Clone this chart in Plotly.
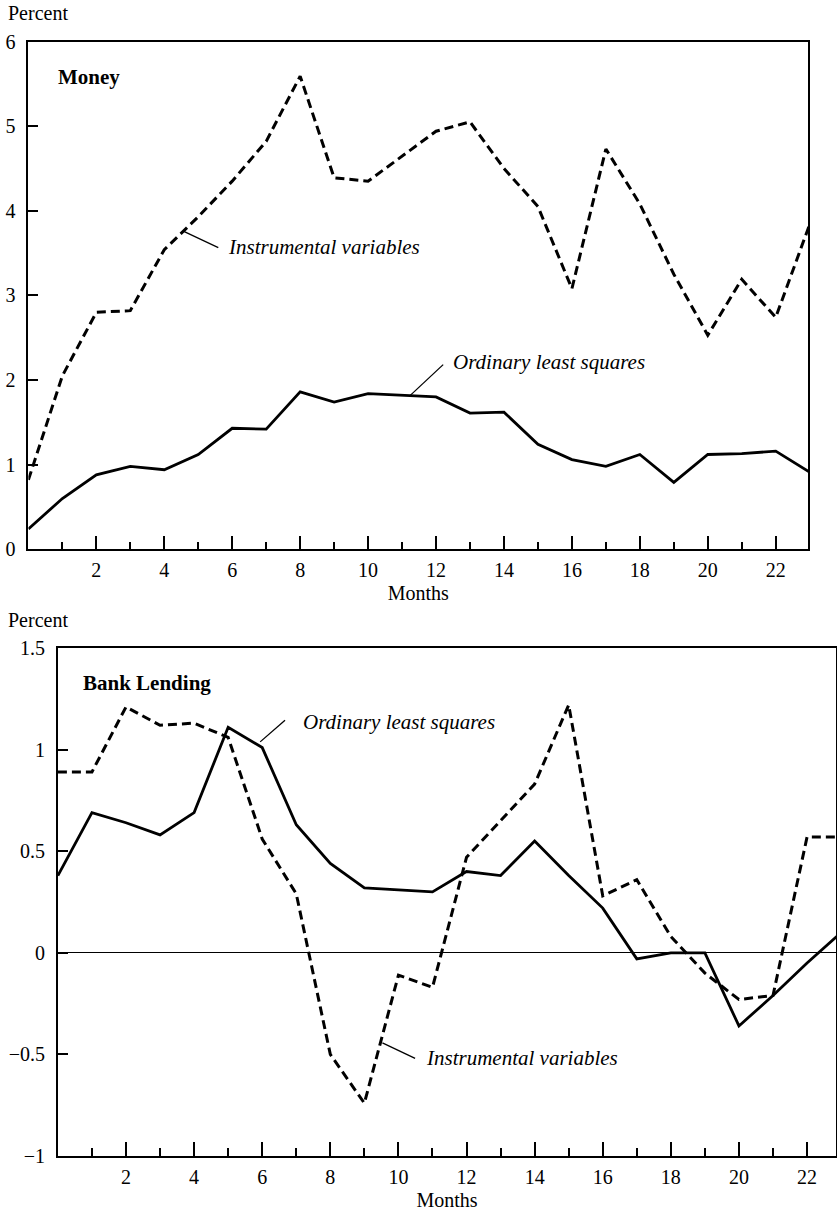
import plotly.graph_objects as go

months = list(range(24))

money_iv = [0.82, 2.05, 2.80, 2.82, 3.54, 3.93, 4.35, 4.82, 5.59, 4.39, 4.35, 4.64,
            4.94, 5.05, 4.50, 4.05, 3.08, 4.73, 4.08, 3.25, 2.53, 3.19, 2.74, 3.84]
money_ols = [0.24, 0.60, 0.88, 0.98, 0.94, 1.12, 1.43, 1.42, 1.86, 1.74, 1.84, 1.82,
             1.80, 1.61, 1.62, 1.24, 1.06, 0.98, 1.12, 0.79, 1.12, 1.13, 1.16, 0.91]

bank_iv = [0.89, 0.89, 1.21, 1.12, 1.13, 1.06, 0.56, 0.29, -0.50, -0.74, -0.11, -0.17,
           0.47, 0.65, 0.83, 1.22, 0.28, 0.36, 0.08, -0.10, -0.23, -0.21, 0.57, 0.57]
bank_ols = [0.38, 0.69, 0.64, 0.58, 0.69, 1.11, 1.01, 0.63, 0.44, 0.32, 0.31, 0.30,
            0.40, 0.38, 0.55, 0.38, 0.22, -0.03, 0.00, 0.00, -0.36, -0.21, -0.05, 0.10]

major_ticks = [2, 4, 6, 8, 10, 12, 14, 16, 18, 20, 22]
minor_ticks = [1, 3, 5, 7, 9, 11, 13, 15, 17, 19, 21]
money_yticks = [0, 1, 2, 3, 4, 5, 6]
bank_yticks = [-1, -0.5, 0, 0.5, 1, 1.5]
bank_yticktext = ["\u22121", "\u22120.5", "0", "0.5", "1", "1.5"]

W, H = 837, 1213
FONT = "Liberation Serif, Times New Roman, serif"

fig = go.Figure()

dash_style = dict(color="black", width=3, dash="9px,5px")
solid_style = dict(color="black", width=2.8)

fig.add_trace(go.Scatter(x=months, y=money_iv, mode="lines", line=dash_style,
                         xaxis="x", yaxis="y", showlegend=False, name="Instrumental variables"))
fig.add_trace(go.Scatter(x=months, y=money_ols, mode="lines", line=solid_style,
                         xaxis="x", yaxis="y", showlegend=False, name="Ordinary least squares"))
fig.add_trace(go.Scatter(x=months, y=bank_iv, mode="lines", line=dash_style,
                         xaxis="x2", yaxis="y2", showlegend=False, name="Instrumental variables"))
fig.add_trace(go.Scatter(x=months, y=bank_ols, mode="lines", line=solid_style,
                         xaxis="x2", yaxis="y2", showlegend=False, name="Ordinary least squares"))

tickfont = dict(family=FONT, size=20, color="black")

def xaxis_cfg(domain, rng, anchor):
    return dict(
        domain=domain, range=rng, anchor=anchor,
        showline=True, linecolor="black", linewidth=1.6, mirror=True,
        showgrid=False, zeroline=False,
        tickmode="array", tickvals=major_ticks, ticktext=[str(t) for t in major_ticks],
        ticks="inside", ticklen=14, tickwidth=1.5, tickcolor="black",
        minor=dict(tickmode="array", tickvals=minor_ticks, ticks="inside",
                   ticklen=8, tickwidth=1.5, tickcolor="black"),
        tickfont=tickfont, ticklabelstandoff=2,
        title=dict(text="Months", font=dict(family=FONT, size=20, color="black"), standoff=6),
        automargin=False,
    )

def yaxis_cfg(domain, rng, anchor, vals, text, zeroline=False):
    return dict(
        domain=domain, range=rng, anchor=anchor,
        showline=True, linecolor="black", linewidth=1.6, mirror=True,
        showgrid=False, zeroline=zeroline, zerolinecolor="black", zerolinewidth=1.3,
        tickmode="array", tickvals=vals, ticktext=text,
        ticks="inside", ticklen=10, tickwidth=1.5, tickcolor="black",
        tickfont=tickfont, ticklabelstandoff=7,
        automargin=False,
    )

top_x = [28.4 / W, 808.0 / W]
top_y = [1 - 549.3 / H, 1 - 41.5 / H]
bot_x = [57.9 / W, 836.0 / W]
bot_y = [1 - 1156.0 / H, 1 - 648.0 / H]

fig.update_layout(
    width=W, height=H,
    margin=dict(l=0, r=0, t=0, b=0),
    paper_bgcolor="white", plot_bgcolor="white",
    font=dict(family=FONT, size=20, color="black"),
    xaxis=xaxis_cfg(top_x, [0, 22.95], "y"),
    yaxis=yaxis_cfg(top_y, [0, 6], "x", money_yticks, [str(v) for v in money_yticks]),
    xaxis2=xaxis_cfg(bot_x, [0, 22.85], "y2"),
    yaxis2=yaxis_cfg(bot_y, [-1, 1.5], "x2", bank_yticks, bank_yticktext, zeroline=True),
)

def ann(text, x, y, xref, yref, size=21, bold=False, italic=False, xanchor="left"):
    t = text
    if bold:
        t = "<b>" + t + "</b>"
    if italic:
        t = "<i>" + t + "</i>"
    fig.add_annotation(text=t, x=x, y=y, xref=xref, yref=yref, showarrow=False,
                       xanchor=xanchor, yanchor="middle",
                       font=dict(family=FONT, size=size, color="black"))

# Percent labels
ann("Percent", 6 / W, 1 - 13 / H, "paper", "paper", size=20)
ann("Percent", 6 / W, 1 - 620 / H, "paper", "paper", size=20)

# Panel titles
ann("Money", 0.82, 5.585, "x", "y", bold=True)
ann("Bank Lending", 0.68, 1.326, "x2", "y2", bold=True)

# Series labels with leader lines
ann("Instrumental variables", 5.82, 3.568, "x", "y", italic=True)
ann("Ordinary least squares", 12.45, 2.21, "x", "y", italic=True)
ann("Ordinary least squares", 7.15, 1.137, "x2", "y2", italic=True)
ann("Instrumental variables", 10.75, -0.52, "x2", "y2", italic=True)

leader = dict(color="black", width=1.3)
fig.add_shape(type="line", x0=4.59, y0=3.754, x1=5.59, y1=3.564, xref="x", yref="y", line=leader)
fig.add_shape(type="line", x0=11.21, y0=1.807, x1=12.21, y1=2.182, xref="x", yref="y", line=leader)
fig.add_shape(type="line", x0=5.94, y0=1.038, x1=6.67, y1=1.145, xref="x2", yref="y2", line=leader)
fig.add_shape(type="line", x0=9.53, y0=-0.443, x1=10.49, y1=-0.52, xref="x2", yref="y2", line=leader)

fig.write_html("out.html")
